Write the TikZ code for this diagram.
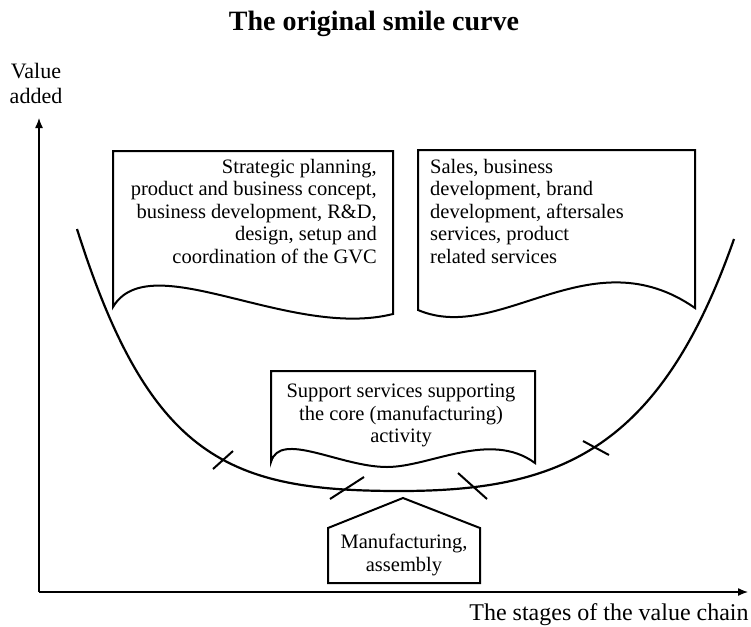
\documentclass[tikz,border=0pt]{standalone}
\usepackage{fontspec}
\setmainfont{Liberation Serif}
\usepackage{tikz}
\usetikzlibrary{arrows.meta}
\usetikzlibrary{positioning}
\usetikzlibrary{calc}
\tikzstyle{boxtext}=[inner sep=0pt,font=\fontsize{20.5}{22.5}\selectfont]
\tikzstyle{outline}=[line width=2pt,line join=miter]
\tikzstyle{axis}=[line width=1.3pt,-{Latex[length=10pt,width=8pt]}]

\begin{document}
\begin{tikzpicture}[x=1pt,y=-1pt]
\useasboundingbox (0,0) rectangle (751,626);
\tikzstyle{tick}=[line width=2pt]
% title and axes
\node [anchor=base,font=\bfseries\fontsize{28}{30}\selectfont] (title) at (374,31) {The original smile curve};
\coordinate (o) at (39,592);
\coordinate (ytip) at (39,118);
\coordinate (xtip) at (748,592);
\draw [axis] (o) -- (ytip);
\draw [axis] (o) -- (xtip);
\node [anchor=base,align=center,font=\fontsize{22}{25}\selectfont] (vlabel) at (36,103) {Value\\added};
\node [anchor=base,font=\fontsize{24}{26}\selectfont] (xlabel) at (609,620) {The stages of the value chain};
% the smile
\coordinate (sl) at (77,229);
\coordinate (smin) at (400,491);
\coordinate (sr) at (734,239);
\draw [line width=2.2pt] (sl) .. controls (150,460) and (230,491) .. (smin)
  .. controls (560,491) and (660,450) .. (sr);
\draw [tick] (213,469) -- (233,451);
\draw [tick] (330,499) -- (364,477);
\draw [tick] (458,473) -- (487,499);
\draw [tick] (583,441) -- (609,455);
% upstream box
\draw [outline,fill=white] (113,307) -- (113,151) -- (393,151) -- (393,314)
  .. controls (290,340) and (150,245) .. (113,307) -- cycle;
\node [boxtext,anchor=north east,align=right] (up) at (377,159)
  {Strategic planning,\\product and business concept,\\business development, R\&D,\\design, setup and\\coordination of the GVC};
% downstream box
\draw [outline,fill=white] (418,310) -- (418,150) -- (695,150) -- (695,308)
  .. controls (590,235) and (500,345) .. (418,310) -- cycle;
\node [boxtext,anchor=north west,align=left] (down) at (430,159)
  {Sales, business\\development, brand\\development, aftersales\\services, product\\related services};
% support box
\draw [outline,fill=white] (271,462) -- (271,371) -- (535,371) -- (535,463)
  .. controls (490,430) and (430,467) .. (387,467)
  .. controls (340,467) and (280,430) .. (271,462) -- cycle;
\node [boxtext,anchor=north,align=center] (support) at (401,384)
  {Support services supporting\\the core (manufacturing)\\activity};
% manufacturing
\draw [outline,fill=white] (328,583) -- (328,528) -- (403,498) -- (480,528) -- (480,583) -- cycle;
\node [boxtext,anchor=north,align=center] (manuf) at (404,534) {Manufacturing,\\assembly};
\end{tikzpicture}
\end{document}
